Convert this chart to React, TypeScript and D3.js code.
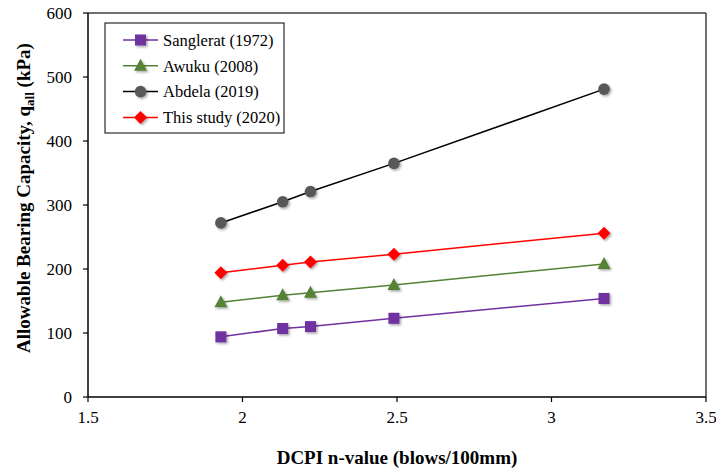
import React from "react";
import * as d3 from "d3";

const xValues = [1.93, 2.13, 2.22, 2.49, 3.17];
const sanglerat = [94, 107, 110, 123, 154];
const awuku = [148, 159, 163, 175, 208];
const abdela = [272, 305, 321, 365, 481];
const thisStudy = [194, 206, 211, 223, 256];
const xTicks = [1.5, 2, 2.5, 3, 3.5];
const yTicks = [0, 100, 200, 300, 400, 500, 600];

const series = [
  { name: "Sanglerat (1972)", values: sanglerat, color: "#7030A0", fill: "#7030A0", shape: "square" },
  { name: "Awuku (2008)", values: awuku, color: "#548235", fill: "#548235", shape: "triangle" },
  { name: "Abdela (2019)", values: abdela, color: "#000000", fill: "#595959", shape: "circle" },
  { name: "This study (2020)", values: thisStudy, color: "#FF0000", fill: "#FF0000", shape: "diamond" },
];

const W = 716, H = 471;
const M = { left: 88, right: 10, top: 13, bottom: 74 };

function Marker({ shape, x, y, fill }: { shape: string; x: number; y: number; fill: string }) {
  const f = "url(#shadow)";
  if (shape === "square") return <rect x={x - 5.5} y={y - 5.5} width={11} height={11} fill={fill} filter={f} />;
  if (shape === "circle") return <circle cx={x} cy={y} r={5.8} fill={fill} filter={f} />;
  if (shape === "triangle")
    return <path d={`M${x},${y - 7}L${x + 6.5},${y + 5}L${x - 6.5},${y + 5}Z`} fill={fill} filter={f} />;
  return <path d={`M${x},${y - 6.5}L${x + 6.5},${y}L${x},${y + 6.5}L${x - 6.5},${y}Z`} fill={fill} filter={f} />;
}

export default function App() {
  const x = d3.scaleLinear().domain([1.5, 3.5]).range([M.left, W - M.right]);
  const y = d3.scaleLinear().domain([0, 600]).range([H - M.bottom, M.top]);
  const line = d3.line<number>();
  const font = "'Liberation Serif', 'Times New Roman', serif";
  const x0 = x(1.5), x1 = x(3.5), y0 = y(0), y1 = y(600);

  return (
    <svg width={W} height={H} style={{ position: "absolute", left: 0, top: 0, background: "#fff" }} fontFamily={font}>
      <defs>
        <filter id="shadow" x="-50%" y="-50%" width="200%" height="200%">
          <feDropShadow dx="1.5" dy="1.5" stdDeviation="1.2" floodColor="#000" floodOpacity="0.35" />
        </filter>
      </defs>
      <rect x={0} y={0} width={W} height={H} fill="#fff" />
      {/* frame */}
      <line x1={x0} y1={y1} x2={x1} y2={y1} stroke="#404040" strokeWidth={1.5} />
      <line x1={x1} y1={y1} x2={x1} y2={y0} stroke="#404040" strokeWidth={1.5} />
      <line x1={x0} y1={y1} x2={x0} y2={y0} stroke="#000" strokeWidth={1.5} />
      <line x1={x0} y1={y0} x2={x1} y2={y0} stroke="#000" strokeWidth={1.5} />
      {yTicks.map((t) => (
        <g key={"y" + t}>
          <line x1={x0 - 5} x2={x0} y1={y(t)} y2={y(t)} stroke="#000" strokeWidth={1.2} />
          <text x={x0 - 16} y={y(t)} dy="0.35em" textAnchor="end" fontSize={17}>{t}</text>
        </g>
      ))}
      {xTicks.map((t) => (
        <g key={"x" + t}>
          <line x1={x(t)} x2={x(t)} y1={y0} y2={y0 + 5} stroke="#000" strokeWidth={1.2} />
          <text x={x(t)} y={y0 + 26} textAnchor="middle" fontSize={17}>{t}</text>
        </g>
      ))}
      {series.map((s) => (
        <g key={s.name}>
          <path
            d={line(s.values.map((v, i) => [x(xValues[i]), y(v)]) as any) || ""}
            fill="none"
            stroke={s.color}
            strokeWidth={1.5}
          />
          {s.values.map((v, i) => (
            <Marker key={i} shape={s.shape} x={x(xValues[i])} y={y(v)} fill={s.fill} />
          ))}
        </g>
      ))}
      {/* legend */}
      <rect x={105} y={23} width={179} height={110} fill="#fff" stroke="#000" strokeWidth={1} />
      {series.map((s, i) => {
        const ly = 40 + i * 25.8;
        return (
          <g key={"l" + s.name}>
            <line x1={123} x2={158} y1={ly} y2={ly} stroke={s.color} strokeWidth={1.5} />
            <Marker shape={s.shape} x={140.5} y={ly} fill={s.fill} />
            <text x={163} y={ly} dy="0.35em" fontSize={16.5}>{s.name}</text>
          </g>
        );
      })}
      {/* axis titles */}
      <text x={(x0 + x1) / 2} y={464} textAnchor="middle" fontSize={19} fontWeight="bold">
        DCPI n-value (blows/100mm)
      </text>
      <text transform={`translate(30,198) rotate(-90)`} textAnchor="middle" fontSize={19} fontWeight="bold">
        Allowable Bearing Capacity, q<tspan fontSize={13} dy="4">all</tspan><tspan dy="-4"> (kPa)</tspan>
      </text>
    </svg>
  );
}
